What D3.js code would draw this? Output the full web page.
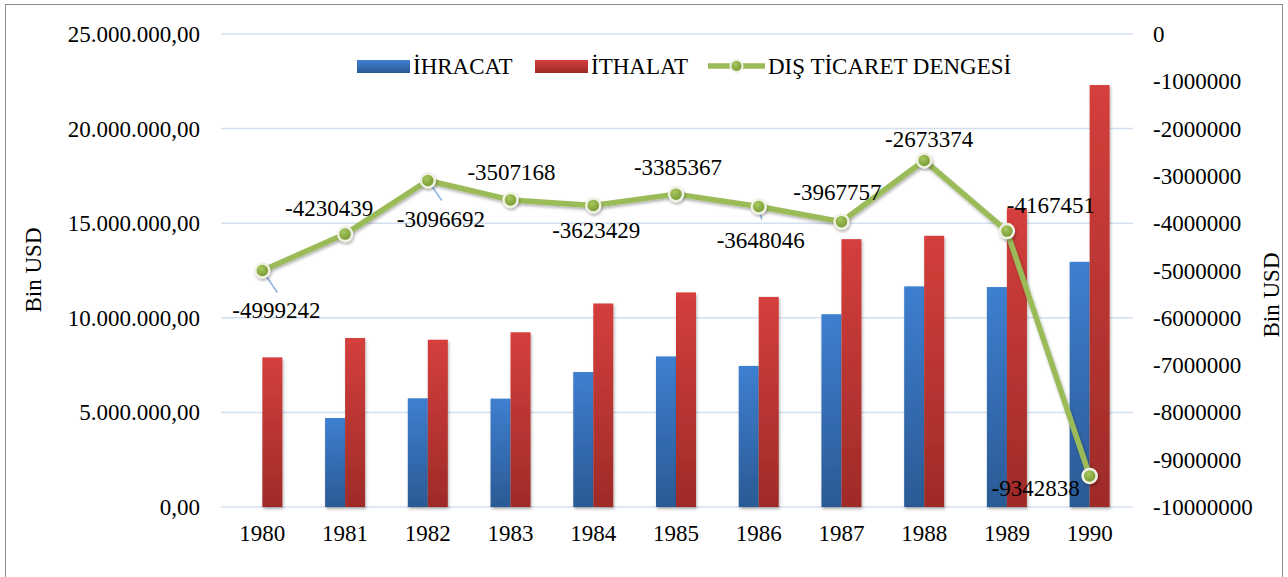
<!DOCTYPE html>
<html>
<head>
<meta charset="utf-8">
<script src="https://cdn.jsdelivr.net/npm/d3@7"></script>
<style>
  body { margin: 0; background: #fff; }
</style>
</head>
<body>
<div id="chart-area"></div>
<script>
// data (Bin USD)
const years = ['1980', '1981', '1982', '1983', '1984', '1985', '1986', '1987', '1988', '1989', '1990'];
const ihracat = [null, 4703000, 5746000, 5728000, 7134000, 7958000, 7457000, 10190000, 11662000, 11625000, 12959000];
const ithalat = [7909000, 8933000, 8843000, 9235000, 10757000, 11343000, 11105000, 14158000, 14335000, 15792000, 22302000];
const denge = [-4999242, -4230439, -3096692, -3507168, -3623429, -3385367, -3648046, -3967757, -2673374, -4167451, -9342838];
const leftTicks = [0, 5000000, 10000000, 15000000, 20000000, 25000000];
const rightTicks = [0, -1000000, -2000000, -3000000, -4000000, -5000000, -6000000, -7000000, -8000000, -9000000, -10000000];

// label placement (offset from point), as Excel placed them
const labelOffsets = [[14, 48], [-16, -18], [13, 47], [1, -20], [3, 33], [2, -19], [2, 41], [-4, -22], [5, -13], [44, -18], [-54, 20]];
const leaders = [[15, 22], null, [14, 20], null, null, null, [3, 13], null, null, null, null];

const W = 1288, H = 577;
const plot = { left: 221, right: 1131, top: 34, bottom: 507 };
const FS = 23;
const FONT = "'Liberation Serif', 'Times New Roman', serif";

const loc = d3.formatLocale({ decimal: ',', thousands: '.', grouping: [3], currency: ['', ''], minus: '-' });
const fmtLeft = loc.format(',.2f');
const fmtRight = loc.format('d');

const svg = d3.select('#chart-area')
  .append('svg')
    .attr('width', W)
    .attr('height', H)
    .style('font-family', FONT);

const defs = svg.append('defs');
const grad = (id, c1, c2) => {
  const lg = defs.append('linearGradient').attr('id', id)
    .attr('x1', 0).attr('y1', 0).attr('x2', 0).attr('y2', 1);
  lg.append('stop').attr('offset', '0%').attr('stop-color', c1);
  lg.append('stop').attr('offset', '100%').attr('stop-color', c2);
};
grad('gBlue', '#3E7FD0', '#2B5A95');
grad('gRed', '#D43F3C', '#9E2B28');
const rg = defs.append('radialGradient').attr('id', 'gDot').attr('cx', '40%').attr('cy', '35%').attr('r', '65%');
rg.append('stop').attr('offset', '0%').attr('stop-color', '#A6C85E');
rg.append('stop').attr('offset', '100%').attr('stop-color', '#75962F');
const sh = defs.append('filter').attr('id', 'shadow').attr('x', '-30%').attr('y', '-30%').attr('width', '160%').attr('height', '160%');
sh.append('feDropShadow').attr('dx', 1).attr('dy', 2).attr('stdDeviation', 1.5).attr('flood-color', '#000').attr('flood-opacity', 0.3);

// outer border
svg.append('rect')
  .attr('x', 5.5).attr('y', 4.5)
  .attr('width', W - 11).attr('height', H + 20)
  .attr('fill', 'none').attr('stroke', '#8c8c8c').attr('stroke-width', 1);

const x = d3.scaleBand()
  .domain(years)
  .range([plot.left, plot.right])
  .padding(0);

const xInner = d3.scaleBand()
  .domain(['ihracat', 'ithalat'])
  .range([x.bandwidth() / 2 - 20, x.bandwidth() / 2 + 20]);

const yL = d3.scaleLinear().domain([0, 25000000]).range([plot.bottom, plot.top]);
const yR = d3.scaleLinear().domain([-10000000, 0]).range([plot.bottom, plot.top]);

// gridlines
svg.append('g')
  .selectAll('line')
  .data(leftTicks)
  .join('line')
    .attr('x1', plot.left).attr('x2', plot.right + 2)
    .attr('y1', d => yL(d)).attr('y2', d => yL(d))
    .attr('stroke', '#D4E0F0').attr('stroke-width', 1.5);

// left axis
const yAxisL = svg.append('g')
  .attr('transform', 'translate(' + (plot.left - 21) + ',0)')
  .call(d3.axisLeft(yL).tickValues(leftTicks).tickFormat(fmtLeft).tickSize(0).tickPadding(0));
yAxisL.attr('font-family', null).attr('font-size', null);
yAxisL.select('.domain').remove();
yAxisL.selectAll('text').style('font-size', FS + 'px').style('font-family', FONT).attr('fill', '#000').attr('dy', '0.33em');

// right axis
const yAxisR = svg.append('g')
  .attr('transform', 'translate(' + (plot.right + 22) + ',0)')
  .call(d3.axisRight(yR).tickValues(rightTicks).tickFormat(fmtRight).tickSize(0).tickPadding(0));
yAxisR.attr('font-family', null).attr('font-size', null);
yAxisR.select('.domain').remove();
yAxisR.selectAll('text').style('font-size', FS + 'px').style('font-family', FONT).attr('fill', '#000').attr('dy', '0.33em');

// x axis
const xAxis = svg.append('g')
  .attr('transform', 'translate(0,' + (plot.bottom + 16) + ')')
  .call(d3.axisBottom(x).tickSize(0).tickPadding(0));
xAxis.attr('font-family', null).attr('font-size', null);
xAxis.select('.domain').remove();
xAxis.selectAll('text').style('font-size', FS + 'px').style('font-family', FONT).attr('fill', '#000').attr('dy', '0.8em');

// axis titles
svg.append('text')
  .attr('transform', 'translate(41,270) rotate(-90)')
  .attr('text-anchor', 'middle')
  .style('font-size', FS + 'px')
  .style('font-family', FONT)
  .text('Bin USD');
svg.append('text')
  .attr('transform', 'translate(1279,295) rotate(-90)')
  .attr('text-anchor', 'middle')
  .style('font-size', FS + 'px')
  .style('font-family', FONT)
  .text('Bin USD');

// bars
const rows = years.map((yr, i) => ({ year: yr, ihracat: ihracat[i], ithalat: ithalat[i], denge: denge[i], i: i }));
const barData = [];
rows.forEach(r => {
  if (r.ihracat != null) barData.push({ year: r.year, key: 'ihracat', value: r.ihracat });
  if (r.ithalat != null) barData.push({ year: r.year, key: 'ithalat', value: r.ithalat });
});

svg.append('g')
  .selectAll('rect')
  .data(barData)
  .join('rect')
    .attr('x', d => x(d.year) + xInner(d.key))
    .attr('y', d => yL(d.value))
    .attr('width', xInner.bandwidth())
    .attr('height', d => yL(0) - yL(d.value))
    .attr('fill', d => d.key === 'ihracat' ? 'url(#gBlue)' : 'url(#gRed)')
    .attr('filter', 'url(#shadow)');

// line
const cx = d => x(d.year) + x.bandwidth() / 2;
const line = d3.line()
  .x(cx)
  .y(d => yR(d.denge));

svg.append('path')
  .datum(rows)
  .attr('d', line)
  .attr('fill', 'none')
  .attr('stroke', '#9BBB59')
  .attr('stroke-width', 5.5)
  .attr('stroke-linejoin', 'round')
  .attr('filter', 'url(#shadow)');

// leader lines
svg.append('g')
  .selectAll('line')
  .data(rows.filter(r => leaders[r.i]))
  .join('line')
    .attr('x1', cx)
    .attr('y1', d => yR(d.denge))
    .attr('x2', d => cx(d) + leaders[d.i][0])
    .attr('y2', d => yR(d.denge) + leaders[d.i][1])
    .attr('stroke', '#8DB3E2')
    .attr('stroke-width', 1.5);

svg.append('g')
  .selectAll('circle')
  .data(rows)
  .join('circle')
    .attr('cx', cx)
    .attr('cy', d => yR(d.denge))
    .attr('r', 7)
    .attr('fill', 'url(#gDot)')
    .attr('stroke', '#EFF1E2')
    .attr('stroke-width', 2.5)
    .attr('filter', 'url(#shadow)');

// data labels
svg.append('g')
  .selectAll('text')
  .data(rows)
  .join('text')
    .attr('x', d => cx(d) + labelOffsets[d.i][0])
    .attr('y', d => yR(d.denge) + labelOffsets[d.i][1])
    .attr('text-anchor', 'middle')
    .style('font-size', FS + 'px')
    .style('font-family', FONT)
    .text(d => fmtRight(d.denge));

// legend
const legend = svg.append('g');
const legendItems = [
  { label: 'İHRACAT', type: 'bar', fill: 'url(#gBlue)', x: 357 },
  { label: 'İTHALAT', type: 'bar', fill: 'url(#gRed)', x: 535 },
  { label: 'DIŞ TİCARET DENGESİ', type: 'line', x: 708 }
];
legendItems.forEach(it => {
  if (it.type === 'bar') {
    legend.append('rect')
      .attr('x', it.x).attr('y', 60)
      .attr('width', 53).attr('height', 13)
      .attr('fill', it.fill);
  } else {
    legend.append('line')
      .attr('x1', it.x).attr('x2', it.x + 57)
      .attr('y1', 66).attr('y2', 66)
      .attr('stroke', '#9BBB59').attr('stroke-width', 5.5);
    legend.append('circle')
      .attr('cx', it.x + 28.5).attr('cy', 66).attr('r', 6)
      .attr('fill', 'url(#gDot)')
      .attr('stroke', '#EFF1E2').attr('stroke-width', 2);
  }
  legend.append('text')
    .attr('x', it.x + (it.type === 'bar' ? 56 : 60))
    .attr('y', 74)
    .style('font-size', FS + 'px')
    .style('font-family', FONT)
    .text(it.label);
});
</script>
</body>
</html>
